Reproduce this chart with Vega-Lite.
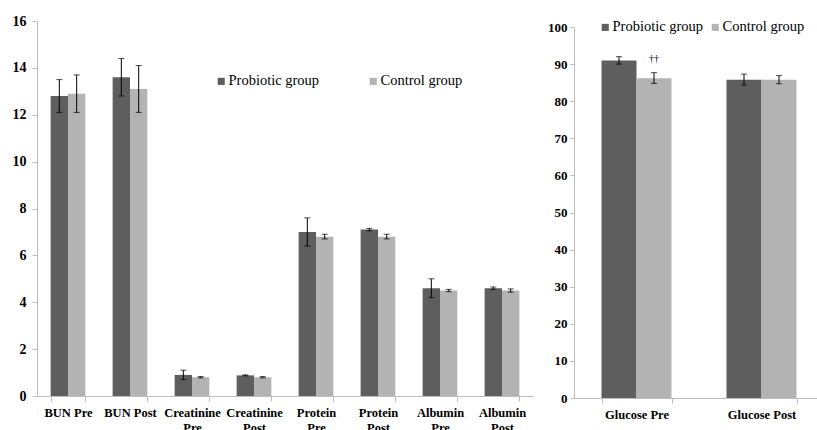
{
  "$schema": "https://vega.github.io/schema/vega-lite/v6.json",
  "background": "white",
  "padding": {"left": 12, "top": 14, "right": 0, "bottom": 0},
  "spacing": 14,
  "config": {
    "view": {"stroke": null},
    "font": "Liberation Serif",
    "axis": {
      "domainColor": "#bdbdbd",
      "tickColor": "#bdbdbd",
      "grid": false,
      "labelFont": "Liberation Serif",
      "labelFontWeight": "bold",
      "labelColor": "#000000",
      "labelOverlap": false,
      "title": null
    },
    "legend": {
      "labelFont": "Liberation Serif",
      "labelFontSize": 14.5,
      "labelColor": "#000000",
      "symbolType": "square",
      "symbolSize": 50,
      "symbolStrokeWidth": 0,
      "labelOffset": 0,
      "title": null
    }
  },
  "resolve": {"legend": {"color": "independent"}, "scale": {"xOffset": "independent", "x": "independent", "y": "independent"}},
  "datasets": {
    "left": [
      {"test": "BUN Pre", "group": "Probiotic group", "value": 12.8, "lo": 12.1, "hi": 13.5},
      {"test": "BUN Pre", "group": "Control group", "value": 12.9, "lo": 12.1, "hi": 13.7},
      {"test": "BUN Post", "group": "Probiotic group", "value": 13.6, "lo": 12.8, "hi": 14.4},
      {"test": "BUN Post", "group": "Control group", "value": 13.1, "lo": 12.1, "hi": 14.1},
      {"test": "Creatinine Pre", "group": "Probiotic group", "value": 0.9, "lo": 0.7, "hi": 1.1},
      {"test": "Creatinine Pre", "group": "Control group", "value": 0.8, "lo": 0.77, "hi": 0.83},
      {"test": "Creatinine Post", "group": "Probiotic group", "value": 0.88, "lo": 0.86, "hi": 0.9},
      {"test": "Creatinine Post", "group": "Control group", "value": 0.8, "lo": 0.77, "hi": 0.83},
      {"test": "Protein Pre", "group": "Probiotic group", "value": 7.0, "lo": 6.4, "hi": 7.6},
      {"test": "Protein Pre", "group": "Control group", "value": 6.8, "lo": 6.7, "hi": 6.9},
      {"test": "Protein Post", "group": "Probiotic group", "value": 7.1, "lo": 7.05, "hi": 7.15},
      {"test": "Protein Post", "group": "Control group", "value": 6.8, "lo": 6.7, "hi": 6.9},
      {"test": "Albumin Pre", "group": "Probiotic group", "value": 4.6, "lo": 4.2, "hi": 5.0},
      {"test": "Albumin Pre", "group": "Control group", "value": 4.5, "lo": 4.45, "hi": 4.55},
      {"test": "Albumin Post", "group": "Probiotic group", "value": 4.6, "lo": 4.55, "hi": 4.65},
      {"test": "Albumin Post", "group": "Control group", "value": 4.5, "lo": 4.43, "hi": 4.57}
    ],
    "right": [
      {"test": "Glucose Pre", "group": "Probiotic group", "value": 91.0, "lo": 90.0, "hi": 92.0, "note": null},
      {"test": "Glucose Pre", "group": "Control group", "value": 86.2, "lo": 84.8, "hi": 87.7, "note": "††"},
      {"test": "Glucose Post", "group": "Probiotic group", "value": 85.8, "lo": 84.3, "hi": 87.3, "note": null},
      {"test": "Glucose Post", "group": "Control group", "value": 85.8, "lo": 84.7, "hi": 86.9, "note": null}
    ]
  },
  "hconcat": [
    {
      "width": 496,
      "height": 375,
      "data": {"name": "left"},
      "encoding": {
        "x": {
          "field": "test",
          "type": "nominal",
          "sort": null,
          "scale": {"paddingInner": 0.44, "paddingOuter": 0.22},
          "axis": {
            "labelAngle": 0,
            "labelFontSize": 12.5,
            "tickBand": "extent",
            "tickSize": 5,
            "labelPadding": 5,
            "labelLineHeight": 15,
            "labelExpr": "length(datum.label) > 8 ? split(datum.label, ' ') : datum.label"
          }
        },
        "xOffset": {"field": "group", "type": "nominal", "sort": ["Probiotic group", "Control group"]}
      },
      "layer": [
        {
          "mark": {"type": "bar"},
          "encoding": {
            "y": {
              "field": "value",
              "type": "quantitative",
              "scale": {"domain": [0, 16], "nice": false},
              "axis": {"values": [0, 2, 4, 6, 8, 10, 12, 14, 16], "tickCount": 9, "labelOverlap": false, "labelFontSize": 14, "tickSize": 5, "labelPadding": 6}
            },
            "color": {
              "field": "group",
              "type": "nominal",
              "sort": ["Probiotic group", "Control group"],
              "scale": {"domain": ["Probiotic group", "Control group"], "range": ["#5e5e5e", "#b3b3b3"]},
              "legend": {"orient": "none", "direction": "horizontal", "legendX": 177, "legendY": 53, "columnPadding": 46, "labelFont": "Liberation Serif", "labelFontSize": 14.5}
            }
          }
        },
        {
          "mark": {"type": "rule", "color": "#000000", "strokeWidth": 1},
          "encoding": {
            "y": {"field": "lo", "type": "quantitative"},
            "y2": {"field": "hi"}
          }
        },
        {
          "mark": {"type": "tick", "color": "#000000", "size": 6, "thickness": 1},
          "encoding": {"y": {"field": "lo", "type": "quantitative"}}
        },
        {
          "mark": {"type": "tick", "color": "#000000", "size": 6, "thickness": 1},
          "encoding": {"y": {"field": "hi", "type": "quantitative"}}
        }
      ]
    },
    {
      "width": 250,
      "height": 377,
      "data": {"name": "right"},
      "encoding": {
        "x": {
          "field": "test",
          "type": "nominal",
          "sort": null,
          "scale": {"paddingInner": 0.44, "paddingOuter": 0.22},
          "axis": {
            "labelAngle": 0,
            "labelFontSize": 12.5,
            "tickBand": "extent",
            "tickSize": 5,
            "labelPadding": 5
          }
        },
        "xOffset": {"field": "group", "type": "nominal", "sort": ["Probiotic group", "Control group"]}
      },
      "layer": [
        {
          "mark": {"type": "bar"},
          "encoding": {
            "y": {
              "field": "value",
              "type": "quantitative",
              "scale": {"domain": [0, 100], "nice": false, "range": [377, 6]},
              "axis": {"values": [0, 10, 20, 30, 40, 50, 60, 70, 80, 90, 100], "tickCount": 11, "labelOverlap": false, "labelFontSize": 13, "tickSize": 4, "labelPadding": 3}
            },
            "color": {
              "field": "group",
              "type": "nominal",
              "sort": ["Probiotic group", "Control group"],
              "scale": {"domain": ["Probiotic group", "Control group"], "range": ["#5e5e5e", "#b3b3b3"]},
              "legend": {"orient": "none", "direction": "horizontal", "legendX": 24, "legendY": -1, "columnPadding": 4, "labelFont": "Liberation Serif", "labelFontSize": 14.5}
            }
          }
        },
        {
          "mark": {"type": "rule", "color": "#000000", "strokeWidth": 1},
          "encoding": {
            "y": {"field": "lo", "type": "quantitative"},
            "y2": {"field": "hi"}
          }
        },
        {
          "mark": {"type": "tick", "color": "#000000", "size": 6, "thickness": 1},
          "encoding": {"y": {"field": "lo", "type": "quantitative"}}
        },
        {
          "mark": {"type": "tick", "color": "#000000", "size": 6, "thickness": 1},
          "encoding": {"y": {"field": "hi", "type": "quantitative"}}
        },
        {
          "transform": [{"filter": "datum.note != null"}],
          "mark": {"type": "text", "fontSize": 10, "dy": -14, "color": "#000000", "font": "Liberation Serif"},
          "encoding": {
            "y": {"field": "hi", "type": "quantitative"},
            "text": {"field": "note"}
          }
        }
      ]
    }
  ]
}
